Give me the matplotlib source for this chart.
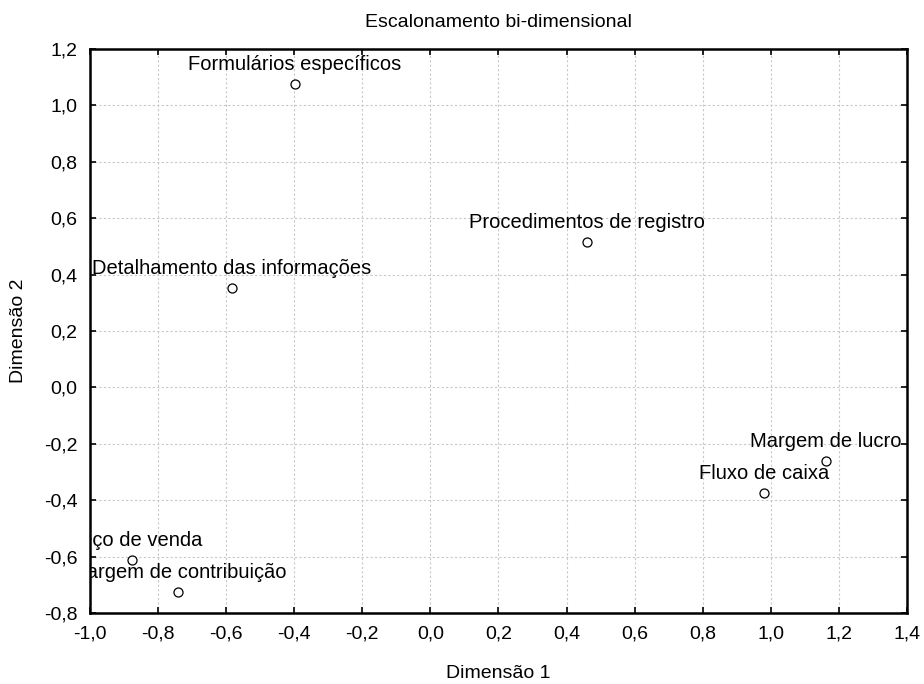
import matplotlib
matplotlib.use("Agg")
import matplotlib.pyplot as plt
from matplotlib.ticker import FuncFormatter, MultipleLocator
from matplotlib.transforms import offset_copy

plt.rcParams['font.family'] = ['Liberation Sans', 'DejaVu Sans']

# coordenadas
rotulos = [
    "Formulários específicos",
    "Procedimentos de registro",
    "Detalhamento das informações",
    "Margem de lucro",
    "Fluxo de caixa",
    "Preço de venda",
    "Margem de contribuição",
]
dim1 = [-0.398, 0.460, -0.583, 1.162, 0.980, -0.877, -0.741]
dim2 = [1.076, 0.516, 0.353, -0.261, -0.374, -0.612, -0.726]

fig = plt.figure(figsize=(9.24, 6.84), dpi=100)
ax = fig.add_axes([0.0974, 0.1038, 0.8842, 0.8246])

ax.plot(dim1, dim2, 'o', markersize=6.5, markerfacecolor='white',
        markeredgecolor='black', markeredgewidth=0.9, zorder=3)

trans = offset_copy(ax.transData, fig=fig, x=0, y=10, units='points')
for rot, x, y in zip(rotulos, dim1, dim2):
    ax.text(x, y, rot, transform=trans, ha='center', va='baseline',
            fontsize=14.5, clip_on=True)

ax.set_xlim(-1.0, 1.4)
ax.set_ylim(-0.8, 1.2)
ax.xaxis.set_major_locator(MultipleLocator(0.2))
ax.yaxis.set_major_locator(MultipleLocator(0.2))

fmt = FuncFormatter(lambda v, p: f"{v:.1f}".replace('.', ',').replace('-0,0', '0,0'))
ax.xaxis.set_major_formatter(fmt)
ax.yaxis.set_major_formatter(fmt)

ax.grid(True, color='#c8c8c8', linestyle=(0, (2, 2)), linewidth=0.8)
ax.tick_params(direction='in', length=4, width=1.2, top=True, right=True,
               labelsize=14, pad=9)
for s in ax.spines.values():
    s.set_linewidth(1.8)

ax.set_title("Escalonamento bi-dimensional", fontsize=14, pad=16)
ax.set_xlabel("Dimensão 1", fontsize=14, labelpad=16)
ax.set_ylabel("Dimensão 2", fontsize=14, labelpad=12)

fig.savefig("out.png", dpi=100)
